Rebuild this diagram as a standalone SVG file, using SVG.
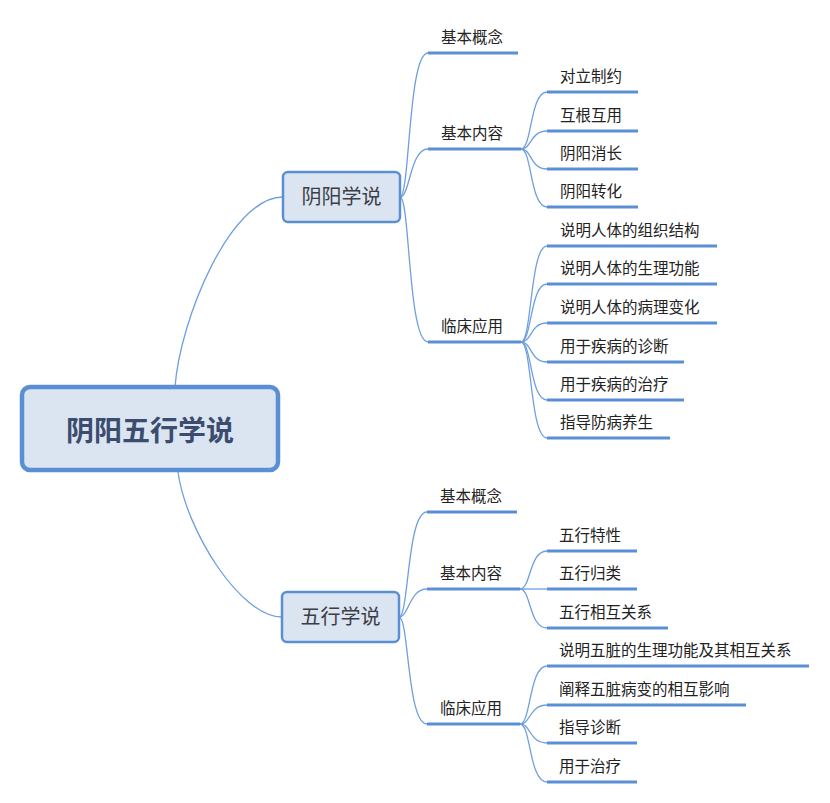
<svg xmlns="http://www.w3.org/2000/svg" width="830" height="803" viewBox="0 0 830 803">
<style>
.c{fill:none;stroke:#6f9fe0;stroke-width:1.3}
.u{stroke:#5a8fd6;stroke-width:3;stroke-linecap:butt}
.t{font-family:"Noto Sans CJK SC","Liberation Sans",sans-serif;font-size:15.5px;fill:#222}
.b1{fill:#dbe5f2;stroke:#5b8fd4;stroke-width:2.5}
.t1{font-family:"Noto Sans CJK SC","Liberation Sans",sans-serif;font-size:20px;fill:#3d3d45;text-anchor:middle}
</style>
<rect width="830" height="803" fill="#fff"/>
<g id="connectors">
<path class="c" d="M175,387 C180,320 230,197 283,197"/>
<path class="c" d="M178,472 C186,530 240,617 282,617"/>
<path class="c" d="M400,197 C410,197 408,53 428,53"/>
<path class="c" d="M400,197 C410,197 410,149 428,149"/>
<path class="c" d="M400,197 C410,197 408,342 428,342"/>
<path class="c" d="M399,617 C409,617 407,512 427,512"/>
<path class="c" d="M399,617 C409,617 409,589 427,589"/>
<path class="c" d="M399,617 C409,617 407,724 427,724"/>
<path class="c" d="M521,149 C532,149 530,92 547,92"/>
<path class="c" d="M521,149 C532,149 530,131 547,131"/>
<path class="c" d="M521,149 C532,149 530,169 547,169"/>
<path class="c" d="M521,149 C532,149 530,207 547,207"/>
<path class="c" d="M521,342 C532,342 530,246 547,246"/>
<path class="c" d="M521,342 C532,342 530,284 547,284"/>
<path class="c" d="M521,342 C532,342 530,323 547,323"/>
<path class="c" d="M521,342 C532,342 530,362 547,362"/>
<path class="c" d="M521,342 C532,342 530,400 547,400"/>
<path class="c" d="M521,342 C532,342 530,438 547,438"/>
<path class="c" d="M520,589 C531,589 529,551 547,551"/>
<path class="c" d="M520,589 L547,589"/>
<path class="c" d="M520,589 C531,589 529,628 547,628"/>
<path class="c" d="M520,724 C531,724 529,666 547,666"/>
<path class="c" d="M520,724 C531,724 529,705 547,705"/>
<path class="c" d="M520,724 C531,724 529,743 547,743"/>
<path class="c" d="M520,724 C531,724 529,782 547,782"/>
</g>
<g id="root">
<rect x="22" y="387" width="256" height="83" rx="8" fill="#dbe5f2" stroke="#5b8fd4" stroke-width="4.5"/>
<text x="150" y="441" text-anchor="middle" font-family="Noto Sans CJK SC, Liberation Sans, sans-serif" font-size="28" font-weight="bold" fill="#3b4c6e">阴阳五行学说</text>
</g>
<g id="yinyang">
<rect class="b1" x="283" y="172" width="117" height="50" rx="5"/>
<text class="t1" x="341.5" y="204">阴阳学说</text>
</g>
<g id="wuxing">
<rect class="b1" x="282" y="592" width="117" height="50" rx="5"/>
<text class="t1" x="340.5" y="624">五行学说</text>
</g>
<g id="yy-l2">
<g id="yy-gainian"><line class="u" x1="428" y1="53" x2="518" y2="53"/><text class="t" x="441" y="43">基本概念</text></g>
<g id="yy-neirong"><line class="u" x1="428" y1="149" x2="521" y2="149"/><text class="t" x="441" y="139">基本内容</text></g>
<g id="yy-yingyong"><line class="u" x1="428" y1="342" x2="521" y2="342"/><text class="t" x="441" y="332">临床应用</text></g>
</g>
<g id="yy-l3">
<g id="n1"><line class="u" x1="547" y1="92" x2="638" y2="92"/><text class="t" x="560" y="82">对立制约</text></g>
<g id="n2"><line class="u" x1="547" y1="131" x2="638" y2="131"/><text class="t" x="560" y="121">互根互用</text></g>
<g id="n3"><line class="u" x1="547" y1="169" x2="638" y2="169"/><text class="t" x="560" y="159">阴阳消长</text></g>
<g id="n4"><line class="u" x1="547" y1="207" x2="638" y2="207"/><text class="t" x="560" y="197">阴阳转化</text></g>
<g id="n5"><line class="u" x1="547" y1="246" x2="717" y2="246"/><text class="t" x="560" y="236">说明人体的组织结构</text></g>
<g id="n6"><line class="u" x1="547" y1="284" x2="717" y2="284"/><text class="t" x="560" y="274">说明人体的生理功能</text></g>
<g id="n7"><line class="u" x1="547" y1="323" x2="717" y2="323"/><text class="t" x="560" y="313">说明人体的病理变化</text></g>
<g id="n8"><line class="u" x1="547" y1="362" x2="684" y2="362"/><text class="t" x="560" y="352">用于疾病的诊断</text></g>
<g id="n9"><line class="u" x1="547" y1="400" x2="684" y2="400"/><text class="t" x="560" y="390">用于疾病的治疗</text></g>
<g id="n10"><line class="u" x1="547" y1="438" x2="670" y2="438"/><text class="t" x="560" y="428">指导防病养生</text></g>
</g>
<g id="wx-l2">
<g id="wx-gainian"><line class="u" x1="427" y1="512" x2="517" y2="512"/><text class="t" x="440" y="502">基本概念</text></g>
<g id="wx-neirong"><line class="u" x1="427" y1="589" x2="520" y2="589"/><text class="t" x="440" y="579">基本内容</text></g>
<g id="wx-yingyong"><line class="u" x1="427" y1="724" x2="520" y2="724"/><text class="t" x="440" y="714">临床应用</text></g>
</g>
<g id="wx-l3">
<g id="m1"><line class="u" x1="547" y1="551" x2="637" y2="551"/><text class="t" x="559" y="541">五行特性</text></g>
<g id="m2"><line class="u" x1="547" y1="589" x2="637" y2="589"/><text class="t" x="559" y="579">五行归类</text></g>
<g id="m3"><line class="u" x1="547" y1="628" x2="668" y2="628"/><text class="t" x="559" y="618">五行相互关系</text></g>
<g id="m4"><line class="u" x1="547" y1="666" x2="809" y2="666"/><text class="t" x="559" y="656">说明五脏的生理功能及其相互关系</text></g>
<g id="m5"><line class="u" x1="547" y1="705" x2="746" y2="705"/><text class="t" x="559" y="695">阐释五脏病变的相互影响</text></g>
<g id="m6"><line class="u" x1="547" y1="743" x2="637" y2="743"/><text class="t" x="559" y="733">指导诊断</text></g>
<g id="m7"><line class="u" x1="547" y1="782" x2="637" y2="782"/><text class="t" x="559" y="772">用于治疗</text></g>
</g>
</svg>
